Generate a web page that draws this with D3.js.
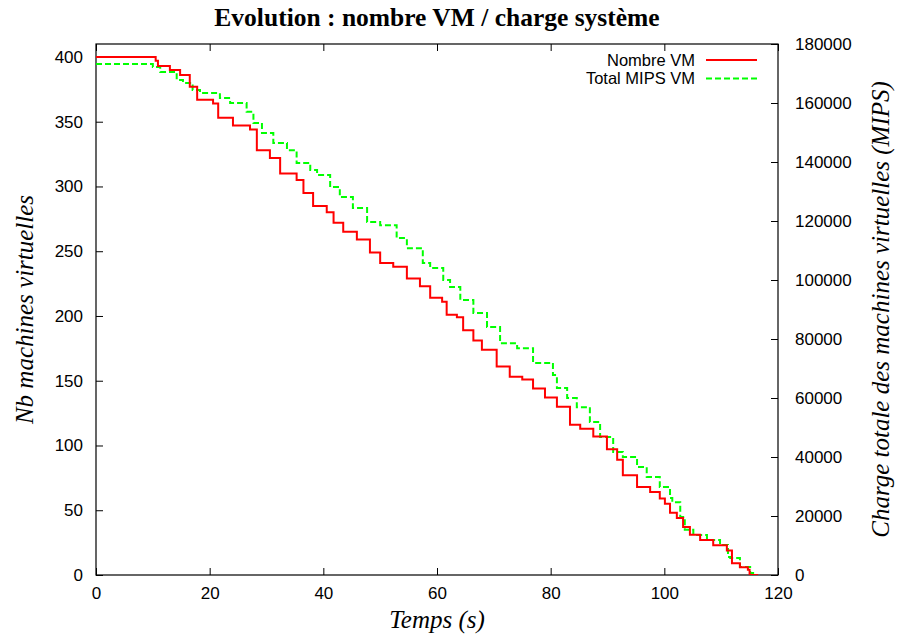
<!DOCTYPE html>
<html><head><meta charset="utf-8">
<script src="https://cdn.jsdelivr.net/npm/d3@7"></script>
<style>body{margin:0;background:#fff}</style>
</head><body>
<svg id="c" width="897" height="635"></svg>
<script>
const title = "Evolution : nombre VM / charge système";
const xLabel = "Temps (s)";
const yLabel = "Nb machines virtuelles";
const y2Label = "Charge totale des machines virtuelles (MIPS)";
const seriesNames = ["Nombre VM", "Total MIPS VM"];
const xTicks = [0,20,40,60,80,100,120];
const yTicks = [0,50,100,150,200,250,300,350,400];
const y2Ticks = [0,20000,40000,60000,80000,100000,120000,140000,160000,180000];

const vmTime = [0,10.5,10.9,13,14.8,16.5,17.8,20.6,21.5,24.1,27.1,28.3,30.6,32.4,35.3,36.5,38.2,40.6,41.8,43.5,45.9,48.2,50,52.3,54.7,57,58.8,60.9,61.7,63.5,64.6,66.4,67.9,70.5,72.8,75,76.9,79,81.1,83.4,85.2,87.5,89.9,91.7,92.7,95.2,97.5,99.2,100.1,101,102.2,103.3,104.5,106.3,108.6,111,111.9,113.3,114.7,115,116.5];
const vmCount = [400,397,393,390,386,377,367,364,353,347,344,328,322,310,305,295,285,280,272,265,259,249,241,238,229,223,214,211,201,199,189,181,174,161,153,151,144,137,130,116,113,107,97,89,77,68,64,59,55,48,44,37,31,27,23,19,9,6,4,0,0];

const mipsTime = [0,10,11.3,14.2,15.3,17,18.3,21.8,23.6,26.5,27.7,29.2,31.2,33.6,35.3,37.7,38.9,41.2,42.9,45.2,47.7,50,52.9,54.7,57.5,58.8,61.1,62.3,64.1,66.4,68.8,71.1,74.1,76.9,80.4,81.1,82.9,84.6,86.9,88.7,91,92.7,95.2,96.9,99.2,101,101.4,102.8,103.6,105.1,107.5,109.8,111.2,111.6,113.3,115.1,116];
const mipsLoad = [173200,172200,170500,167800,166800,164400,163400,161700,160000,157000,153200,149800,146400,144000,139700,137300,135600,131500,128100,124400,119700,118600,114200,110800,105800,104100,100000,97600,93200,88800,84100,78600,76900,71900,67800,63400,60000,56900,51900,46800,41700,40000,36600,33200,29800,26100,24700,19700,15300,13600,11900,10200,6100,5800,2700,700,700];

const L=96, R=778, T=44, B=575;
const svg = d3.select("#c");
const x = d3.scaleLinear().domain([0,120]).range([L,R]);
const y = d3.scaleLinear().domain([0,410]).range([B,T]);
const y2 = d3.scaleLinear().domain([0,180000]).range([B,T]);

const tickFont = "'Liberation Sans', Arial, sans-serif";
const serif = "'Liberation Serif', 'Times New Roman', serif";

const gx = svg.append("g").attr("transform",`translate(0,${B})`)
  .call(d3.axisBottom(x).tickValues(xTicks).tickSizeInner(-7).tickSizeOuter(0).tickPadding(18));
const gxt = svg.append("g").attr("transform",`translate(0,${T})`)
  .call(d3.axisTop(x).tickValues(xTicks).tickSizeInner(-7).tickSizeOuter(0).tickFormat(""));
const gy = svg.append("g").attr("transform",`translate(${L},0)`)
  .call(d3.axisLeft(y).tickValues(yTicks).tickSizeInner(-7).tickSizeOuter(0).tickPadding(13));
const gy2 = svg.append("g").attr("transform",`translate(${R},0)`)
  .call(d3.axisRight(y2).tickValues(y2Ticks).tickFormat(d3.format("d")).tickSizeInner(-7).tickSizeOuter(0).tickPadding(17));
[gx,gxt,gy,gy2].forEach(g=>{
  g.select(".domain").remove();
  g.selectAll("line").attr("stroke","#000").attr("stroke-width",1);
  g.selectAll("text").attr("font-family",tickFont).attr("font-size",17).attr("fill","#000");
});
gx.selectAll("text").attr("dy","0.35em");

svg.append("rect").attr("x",L).attr("y",T).attr("width",R-L).attr("height",B-T)
  .attr("fill","none").attr("stroke","#000").attr("stroke-width",1.2);

svg.append("clipPath").attr("id","pc").append("rect")
  .attr("x",L).attr("y",T-2).attr("width",R-L).attr("height",B-T+2);

const lineVM = d3.line().x(d=>x(d[0])).y(d=>y(d[1])).curve(d3.curveStepAfter);
const lineM = d3.line().x(d=>x(d[0])).y(d=>y2(d[1])).curve(d3.curveStepAfter);

svg.append("path").datum(mipsTime.map((t,i)=>[t,mipsLoad[i]]))
  .attr("d",lineM).attr("fill","none").attr("stroke","#00ff00").attr("stroke-width",2)
  .attr("stroke-dasharray","6,3").attr("clip-path","url(#pc)");
svg.append("path").datum(vmTime.map((t,i)=>[t,vmCount[i]]))
  .attr("d",lineVM).attr("fill","none").attr("stroke","#ff0000").attr("stroke-width",2)
  .attr("clip-path","url(#pc)");

const lg = svg.append("g");
const colors = ["#ff0000","#00ff00"];
seriesNames.forEach((n,i)=>{
  const yy = 60 + i*18.5;
  lg.append("text").attr("x",695).attr("y",yy).attr("dy","0.35em").attr("text-anchor","end")
    .attr("font-family",tickFont).attr("font-size",16.5).text(n);
  lg.append("line").attr("x1",706).attr("x2",757).attr("y1",yy).attr("y2",yy)
    .attr("stroke",colors[i]).attr("stroke-width",2)
    .attr("stroke-dasharray", i===1 ? "6,3" : null);
});

svg.append("text").attr("x",(L+R)/2).attr("y",26).attr("text-anchor","middle")
  .attr("font-family",serif).attr("font-weight","bold").attr("font-size",25.5).text(title);
svg.append("text").attr("x",(L+R)/2).attr("y",628).attr("text-anchor","middle")
  .attr("font-family",serif).attr("font-style","italic").attr("font-size",25).text(xLabel);
svg.append("text").attr("transform",`translate(33,${(T+B)/2}) rotate(-90)`).attr("text-anchor","middle")
  .attr("font-family",serif).attr("font-style","italic").attr("font-size",25).text(yLabel);
svg.append("text").attr("transform",`translate(889,${(T+B)/2}) rotate(-90)`).attr("text-anchor","middle")
  .attr("font-family",serif).attr("font-style","italic").attr("font-size",25).text(y2Label);
</script>
</body></html>
